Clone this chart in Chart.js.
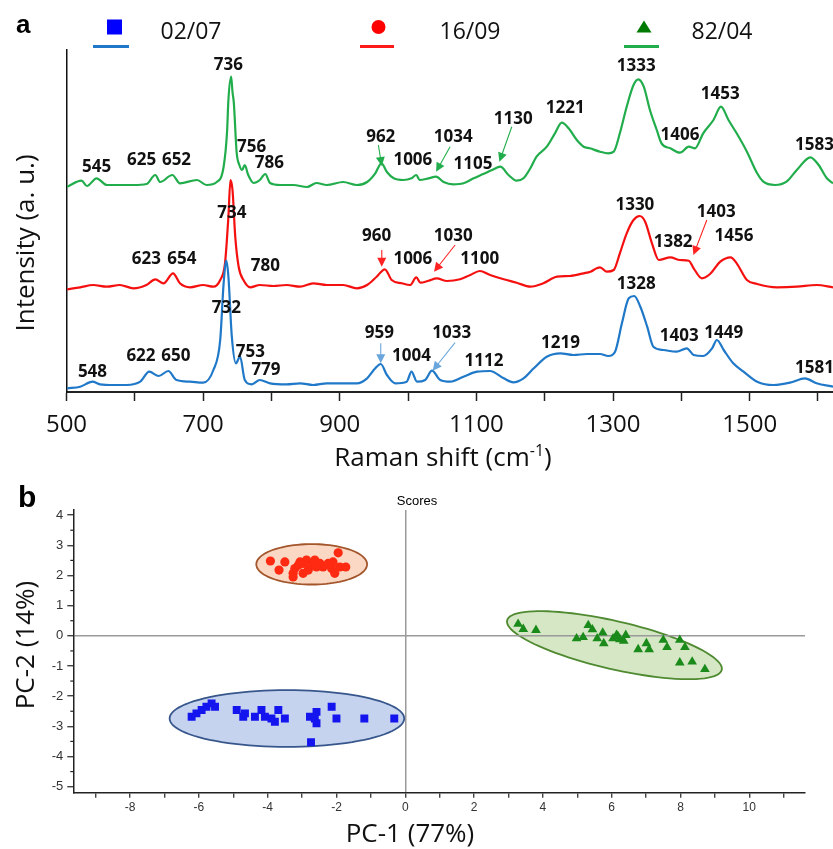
<!DOCTYPE html>
<html><head><meta charset="utf-8">
<script src="https://cdn.jsdelivr.net/npm/chart.js@4.4.1/dist/chart.umd.min.js"></script>
<style>
html,body{margin:0;padding:0;background:#fff;}
#wrap{position:relative;width:833px;height:849px;overflow:hidden;background:#fff;}
#ca{position:absolute;left:0;top:0;width:833px;height:480px;}
#cb{position:absolute;left:0;top:480px;width:833px;height:369px;}
</style></head><body>
<div id="wrap"><canvas id="ca" width="833" height="480"></canvas><canvas id="cb" width="833" height="369"></canvas></div>
<script>
// ---------- Panel a: Raman spectra (x = Raman shift cm-1, y = intensity a.u.) ----------
const blueX = [501,520,538,549,569,588,608,621,635,649,661,681,700,715,725,730,734,737,742,748,754,761,771,783,798,822,842,861,881,905,925,940,952,960,969,981,998,1005,1013,1025,1035,1047,1062,1081,1101,1120,1140,1154,1169,1184,1203,1223,1242,1262,1281,1293,1303,1313,1323,1331,1340,1350,1359,1374,1393,1408,1418,1432,1445,1452,1462,1476,1491,1511,1535,1559,1581,1598,1622];
const blueY = [3.7,5.3,10.3,7.7,7,7,10.3,20.3,16,21,12,10.3,9.3,22,52,108.7,131.3,115.3,55.3,28.7,35.3,12,7.7,12,8.7,7.7,8.7,7,8.7,8.7,8.7,13.7,23.7,28,17,8.7,10.3,20.3,10.3,12,21.3,12,10.3,15.3,20.3,21,13.7,9.7,13.7,23.7,35.3,38.7,37,38,38,36,40.3,68.7,93.7,96,85.3,65.3,45.3,42,40.3,43.7,37,36,43.7,52,42,28.7,20.3,10.3,7,9.3,13.7,8.7,5.3];

const redX = [501,520,539,559,578,598,617,630,642,656,666,681,700,715,725,732,737,740,743,747,752,759,769,783,803,822,842,861,881,905,925,940,954,966,976,991,1003,1012,1018,1030,1042,1057,1076,1091,1105,1120,1140,1159,1179,1198,1218,1237,1257,1267,1276,1281,1291,1301,1310,1320,1330,1339,1347,1357,1367,1384,1398,1411,1418,1430,1442,1457,1472,1481,1496,1511,1540,1569,1598,1622];
const redY = [102.7,104.7,107,105.3,107,103.7,107,112.7,108.7,118.7,108.7,104.7,107,105.3,112,128.7,175.3,212,202,155.3,125.3,112,104.7,107,106,107,105.3,108.7,107,107,103.7,107,115.3,122.7,112,108.7,107,114.7,109.3,111.3,113.7,111,112.7,117,121,117,112.7,109.3,105.3,108.7,115.3,116,118.7,120.3,123.7,124.7,120.3,122,138.7,158.7,172,176,170.3,148.7,132,134.7,132,131.3,123.7,113.7,118,130.3,134.7,128.7,112,108,104.7,105.3,107,104.7];

const greenX = [501,522,530,544,559,578,598,617,630,637,655,666,691,705,720,730,735,737,741,743,745,749,753,757,761,766,774,783,791,798,813,832,852,866,881,905,925,940,952,961,969,979,993,1005,1012,1017,1030,1041,1052,1066,1081,1096,1110,1123,1135,1147,1159,1169,1179,1188,1203,1215,1225,1235,1247,1257,1266,1281,1293,1301,1310,1320,1330,1337,1345,1354,1364,1371,1384,1398,1411,1420,1432,1447,1458,1469,1481,1496,1511,1520,1537,1554,1569,1589,1601,1613,1622];
const greenY = [205.3,211.3,206,213.7,207,207,207,208,217,210,217,208.7,212,207,210,225.3,260,292,315.3,300,288.7,240,227,222,227,217,209,212,218,209,207,207,205,209,207,210,207,210,218.7,228.7,220,213.7,212,213.7,217,212,213.7,215.3,210,207.7,208.7,213.7,218,222,225.3,217,211.3,213.7,223.7,235.3,245.3,258.7,269.3,263.7,252,245.3,243.7,240.3,238.7,240.3,258.7,285.3,307,312.7,305.3,282,262,248.7,243.7,239.3,245.3,243.7,258.7,272,285.3,272,258.7,240.3,218.7,210.3,207,210.3,222,234.7,227,213.7,208.7];

const xTickLabels = [500,700,900,1100,1300,1500];
const seriesNames = ['02/07','16/09','82/04'];

// peak annotations: [text, raman shift, intensity]
const greenPeaks = [['736',737,327],['545',544,224.7],['625',610,232],['652',661,232],['756',771,245.3],['786',797,228.7],['962',960,254.7],['1006',1007,232],['1034',1066,254.7],['1105',1095,228],['1130',1154,273],['1221',1230,283.7],['1333',1334,326],['1406',1398,257],['1453',1457,298],['1583',1595,247]];
const redPeaks = [['734',742,178.7],['623',617,132.7],['654',669,132.7],['780',791,126],['960',954,156],['1006',1007,133],['1030',1066,156],['1100',1105,133],['1330',1332,187],['1403',1451,180.3],['1382',1388,149.7],['1456',1477,156.3]];
const bluePeaks = [['732',734,83.7],['548',538,20.3],['622',609,36],['650',660,36],['753',769,40.3],['779',792,22],['959',958,58.7],['1004',1005,36],['1033',1064,58.7],['1112',1111,31.3],['1219',1223,48.7],['1328',1334,107.7],['1403',1397,56],['1449',1462,58.7],['1581',1595,23.7]];
// arrows: [from shift, from intensity, to shift, to intensity]
const greenArrows = [[956.5,247,961.5,226],[1061.5,245.3,1041,220.3],[1151.8,265.3,1133.7,230.3]];
const redArrows = [[961.5,142,961.5,125.3],[1068.8,147,1038,120.3],[1437.3,172,1417.7,137]];
const blueArrows = [[960,48.7,960,28.7],[1068.8,49.3,1036,21.3]];

// ---------- Panel b: PCA scores ----------
const redPC1 = [-3.92,-3.67,-3.50,-3.26,-3.21,-3.11,-3.06,-2.97,-2.87,-2.72,-2.63,-2.48,-2.39,-2.24,-2.14,-2.05,-1.95,-1.90,-1.73,-3.26,-2.97,-2.58,-2.10,-2.82];
const redPC2 = [2.48,2.18,2.45,2.07,2.23,2.34,2.45,2.40,2.51,2.34,2.51,2.40,2.28,2.40,2.23,2.07,2.75,2.28,2.28,1.95,2.07,2.28,2.45,2.18];
const bluePC1 = [-6.21,-6.07,-5.92,-5.78,-5.63,-5.53,-4.90,-4.71,-4.66,-4.37,-4.18,-4.08,-3.89,-3.79,-3.69,-3.50,-2.77,-2.58,-2.58,-2.14,-2.00,-1.19,-0.32,-2.74,-2.63];
const bluePC2 = [-2.68,-2.57,-2.46,-2.35,-2.24,-2.35,-2.46,-2.68,-2.57,-2.68,-2.46,-2.68,-2.74,-2.85,-2.46,-2.74,-2.68,-2.52,-2.90,-2.35,-2.74,-2.74,-2.74,-3.53,-2.74];
const greenPC1 = [3.28,3.43,3.80,4.98,5.17,5.32,5.44,5.58,5.74,5.77,6.04,6.14,6.24,6.35,6.41,6.77,7.01,7.09,7.50,7.61,7.98,8.13,7.98,8.34,8.71,6.18];
const greenPC2 = [0.39,0.22,0.19,-0.09,-0.05,0.35,0.21,-0.09,0.10,-0.25,-0.09,0.02,-0.12,-0.17,0.02,-0.45,-0.25,-0.45,-0.14,-0.38,-0.14,-0.38,-0.89,-0.86,-1.11,-0.01];
// group ellipses: centre and two half-axis vectors, in PC units
const redEllipse = [-2.72, 2.37, 1.61, 0, 0, 0.67];
const blueEllipse = [-3.44, -2.74, 3.41, 0, 0, 0.94];
const greenEllipse = [6.08, -0.31, 3.12, -0.82, -0.157, -0.775];

const pts = (xs, ys) => xs.map((x, i) => ({x: x, y: ys[i]}));

const COL = {blue:'#1f78c8', red:'#f51010', green:'#22ad4c'};
const FONT = "'Open Sans', 'Liberation Sans', sans-serif";

function drawArrow(ctx, x1, y1, x2, y2, color){
  const a = Math.atan2(y2 - y1, x2 - x1), L = 9, W = 4.5;
  ctx.save();
  ctx.strokeStyle = color; ctx.fillStyle = color; ctx.lineWidth = 1.1;
  ctx.beginPath(); ctx.moveTo(x1, y1); ctx.lineTo(x2 - Math.cos(a) * L * 0.7, y2 - Math.sin(a) * L * 0.7); ctx.stroke();
  ctx.beginPath(); ctx.moveTo(x2, y2);
  ctx.lineTo(x2 - L * Math.cos(a) + W * Math.sin(a), y2 - L * Math.sin(a) - W * Math.cos(a));
  ctx.lineTo(x2 - L * Math.cos(a) - W * Math.sin(a), y2 - L * Math.sin(a) + W * Math.cos(a));
  ctx.closePath(); ctx.fill();
  ctx.restore();
}

const panelA = {
  id: 'panelA',
  afterDatasetsDraw(chart){
    const ctx = chart.ctx, xs = chart.scales.x, ys = chart.scales.y;
    ctx.save();
    ctx.font = "bold 17px " + FONT; ctx.fillStyle = '#111';
    ctx.textAlign = 'center'; ctx.textBaseline = 'middle';
    [greenPeaks, redPeaks, bluePeaks].forEach(list => list.forEach(p => {
      ctx.fillText(p[0], xs.getPixelForValue(p[1]), ys.getPixelForValue(p[2]));
    }));
    [[greenArrows, COL.green], [redArrows, '#ff2222'], [blueArrows, '#6aa6dc']].forEach(([list, c]) => list.forEach(a => {
      drawArrow(ctx, xs.getPixelForValue(a[0]), ys.getPixelForValue(a[1]), xs.getPixelForValue(a[2]), ys.getPixelForValue(a[3]), c);
    }));
    ctx.restore();
  },
  afterDraw(chart){
    const ctx = chart.ctx;
    ctx.save();
    // panel letter
    ctx.fillStyle = '#000'; ctx.font = "bold 26px 'Liberation Sans', Arial, sans-serif";
    ctx.textAlign = 'left'; ctx.textBaseline = 'alphabetic';
    ctx.fillText('a', 16, 33);
    // legend
    ctx.fillStyle = '#0000ff'; ctx.fillRect(107, 19.5, 15, 15);
    ctx.fillStyle = '#ff0000'; ctx.beginPath(); ctx.arc(378.5, 27, 7, 0, Math.PI * 2); ctx.fill();
    ctx.fillStyle = '#007a00'; ctx.beginPath(); ctx.moveTo(644, 20.5); ctx.lineTo(651.5, 32.5); ctx.lineTo(636.5, 32.5); ctx.closePath(); ctx.fill();
    ctx.lineWidth = 3;
    [[93, 129, COL.blue], [360, 394, '#ff1a1a'], [624, 659, COL.green]].forEach(([a, b, c]) => {
      ctx.strokeStyle = c; ctx.beginPath(); ctx.moveTo(a, 46.5); ctx.lineTo(b, 46.5); ctx.stroke();
    });
    ctx.fillStyle = '#111'; ctx.font = "23px " + FONT; ctx.textAlign = 'center'; ctx.textBaseline = 'middle';
    [[191, seriesNames[0]], [470, seriesNames[1]], [722, seriesNames[2]]].forEach(([x, t]) => ctx.fillText(t, x, 32));
    // y title
    ctx.save(); ctx.translate(27, 243); ctx.rotate(-Math.PI / 2);
    ctx.font = "26px " + FONT; ctx.fillText('Intensity (a. u.)', 0, 0); ctx.restore();
    // x title with superscript
    const main = 'Raman shift (cm', sup = '-1', end = ')';
    ctx.font = "26px " + FONT; const w1 = ctx.measureText(main).width, w3 = ctx.measureText(end).width;
    ctx.font = "16px " + FONT; const w2 = ctx.measureText(sup).width;
    let x0 = 443 - (w1 + w2 + w3) / 2;
    ctx.textAlign = 'left'; ctx.textBaseline = 'alphabetic';
    ctx.font = "26px " + FONT; ctx.fillText(main, x0, 466);
    ctx.font = "16px " + FONT; ctx.fillText(sup, x0 + w1, 456);
    ctx.font = "26px " + FONT; ctx.fillText(end, x0 + w1 + w2, 466);
    ctx.restore();
  }
};

new Chart(document.getElementById('ca'), {
  type: 'line',
  data: { datasets: [
    { data: pts(blueX, blueY), borderColor: COL.blue, borderWidth: 2.2, pointRadius: 0, cubicInterpolationMode: 'monotone', fill: false },
    { data: pts(redX, redY), borderColor: COL.red, borderWidth: 2.2, pointRadius: 0, cubicInterpolationMode: 'monotone', fill: false },
    { data: pts(greenX, greenY), borderColor: COL.green, borderWidth: 2.2, pointRadius: 0, cubicInterpolationMode: 'monotone', fill: false }
  ]},
  options: {
    responsive: false, animation: false, devicePixelRatio: 1,
    layout: { padding: { top: 50, right: 0, left: 0, bottom: 0 } },
    plugins: { legend: { display: false }, tooltip: { enabled: false } },
    scales: {
      x: { type: 'linear', min: 500, max: 1622,
        afterFit(s){ s.height = 88; },
        ticks: { stepSize: 100, includeBounds: false, autoSkip: false, maxRotation: 0, padding: 10,
          font: { family: "'Open Sans'", size: 24 }, color: '#111',
          callback: v => xTickLabels.includes(v) ? String(v) : '' },
        grid: { display: true, drawOnChartArea: false, drawTicks: true, tickLength: 9, tickWidth: 1.5, tickColor: '#222' },
        border: { display: true, color: '#222', width: 2 } },
      y: { min: 0, max: 342,
        afterFit(s){ s.width = 66.5; },
        ticks: { display: false }, grid: { display: false },
        border: { display: true, color: '#111', width: 1.5 } }
    }
  },
  plugins: [panelA]
});

const panelB = {
  id: 'panelB',
  beforeDraw(chart){
    const ctx = chart.ctx, xs = chart.scales.x, ys = chart.scales.y;
    ctx.save();
    [[redEllipse, '#fbd8c3', '#a3552b'], [blueEllipse, '#c5d3ee', '#37568c'], [greenEllipse, '#d5e7c5', '#4f8a30']].forEach(([e, f, s]) => {
      ctx.beginPath();
      for (let i = 0; i <= 96; i++) {
        const t = i / 96 * Math.PI * 2;
        const X = e[0] + Math.cos(t) * e[2] + Math.sin(t) * e[4];
        const Y = e[1] + Math.cos(t) * e[3] + Math.sin(t) * e[5];
        const px = xs.getPixelForValue(X), py = ys.getPixelForValue(Y);
        if (i === 0) ctx.moveTo(px, py); else ctx.lineTo(px, py);
      }
      ctx.closePath(); ctx.fillStyle = f; ctx.fill();
      ctx.lineWidth = 1.8; ctx.strokeStyle = s; ctx.stroke();
    });
    ctx.restore();
  },
  afterDraw(chart){
    const ctx = chart.ctx, ys = chart.scales.y, L = chart.chartArea.left;
    ctx.save();
    // minor y ticks
    ctx.strokeStyle = '#222'; ctx.lineWidth = 1.2;
    for (let v = -4.5; v < 4; v += 1) {
      const py = ys.getPixelForValue(v);
      ctx.beginPath(); ctx.moveTo(L - 3, py); ctx.lineTo(L, py); ctx.stroke();
    }
    ctx.fillStyle = '#000'; ctx.textAlign = 'left'; ctx.textBaseline = 'alphabetic';
    ctx.font = "bold 30px 'Liberation Sans', Arial, sans-serif";
    ctx.fillText('b', 18, 27);
    ctx.font = "13px 'Liberation Sans', Arial, sans-serif"; ctx.textAlign = 'center'; ctx.textBaseline = 'middle';
    ctx.fillText('Scores', 417, 21);
    ctx.font = "26px " + FONT; ctx.fillStyle = '#111';
    ctx.fillText('PC-1 (77%)', 410, 355);
    ctx.save(); ctx.translate(27, 165); ctx.rotate(-Math.PI / 2);
    ctx.fillText('PC-2 (14%)', 0, 0); ctx.restore();
    ctx.restore();
  }
};

const zeroGrid = c => (c.tick && c.tick.value === 0) ? '#9a9a9a' : 'rgba(0,0,0,0)';
new Chart(document.getElementById('cb'), {
  type: 'scatter',
  data: { datasets: [
    { data: pts(redPC1, redPC2), pointStyle: 'circle', pointRadius: 4.6, backgroundColor: '#ff2a12', borderWidth: 0 },
    { data: pts(bluePC1, bluePC2), pointStyle: 'rect', pointRadius: 5.6, backgroundColor: '#1414ee', borderWidth: 0 },
    { data: pts(greenPC1, greenPC2), pointStyle: 'triangle', pointRadius: 5.6, backgroundColor: '#1a8a1a', borderWidth: 0 }
  ]},
  options: {
    responsive: false, animation: false, devicePixelRatio: 1,
    layout: { padding: { top: 30, right: 28, left: 0, bottom: 0 } },
    plugins: { legend: { display: false }, tooltip: { enabled: false } },
    scales: {
      x: { type: 'linear', min: -9.65, max: 11.62,
        afterFit(s){ s.height = 56.3; },
        ticks: { stepSize: 1, includeBounds: false, autoSkip: false, maxRotation: 0, padding: 3,
          font: { family: "'Liberation Sans'", size: 12 }, color: '#333',
          callback: v => (Math.round(v) % 2 === 0) ? String(v) : '' },
        grid: { color: zeroGrid, lineWidth: 1.5, drawTicks: true, tickLength: 5, tickColor: '#222', tickWidth: 1.2 },
        border: { display: true, color: '#222', width: 1.5 } },
      y: { min: -5.2, max: 4.17,
        afterFit(s){ s.width = 73.3; },
        ticks: { stepSize: 1, includeBounds: false, autoSkip: false, padding: 4,
          font: { family: "'Liberation Sans'", size: 13 }, color: '#333' },
        grid: { color: zeroGrid, lineWidth: 1.5, drawTicks: true, tickLength: 6, tickColor: '#222', tickWidth: 1.2 },
        border: { display: true, color: '#222', width: 1.5 } }
    }
  },
  plugins: [panelB]
});
</script>
</body></html>
